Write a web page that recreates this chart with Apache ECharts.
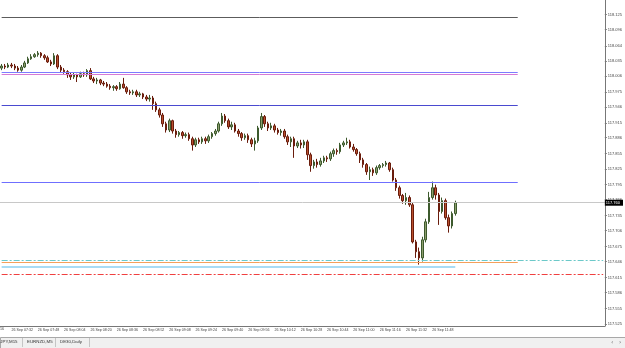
<!DOCTYPE html>
<html>
<head>
<meta charset="utf-8">
<title>USDJPY M2</title>
<style>
    html, body { margin: 0; padding: 0; background: #fff; }
    #chart { width: 625px; height: 348px; }
</style>
</head>
<body>
<div id="chart"></div>
<script src="https://cdn.jsdelivr.net/npm/echarts@6/dist/echarts.min.js"></script>
<script>
// M2 bars, 26 Sep, first bar 07:26 — [open, close, low, high]
const candles = [
    [118.021, 118.025, 118.017, 118.029], [118.025, 118.023, 118.019, 118.029], [118.023, 118.027, 118.021, 118.031],
    [118.027, 118.025, 118.021, 118.031], [118.025, 118.021, 118.017, 118.029], [118.021, 118.017, 118.014, 118.025],
    [118.017, 118.023, 118.014, 118.027], [118.023, 118.031, 118.021, 118.035], [118.031, 118.039, 118.029, 118.043],
    [118.039, 118.043, 118.037, 118.048], [118.043, 118.047, 118.041, 118.050], [118.047, 118.050, 118.043, 118.054],
    [118.050, 118.045, 118.041, 118.052], [118.045, 118.041, 118.037, 118.048], [118.041, 118.033, 118.031, 118.045],
    [118.033, 118.029, 118.025, 118.037], [118.029, 118.045, 118.027, 118.050], [118.045, 118.023, 118.019, 118.048],
    [118.023, 118.017, 118.012, 118.027], [118.017, 118.014, 118.010, 118.021], [118.014, 118.008, 118.002, 118.017],
    [118.008, 118.004, 117.998, 118.012], [118.004, 118.008, 118.000, 118.012], [118.008, 118.004, 117.994, 118.010],
    [118.004, 118.010, 118.002, 118.014], [118.010, 118.008, 118.004, 118.014], [118.008, 118.016, 118.004, 118.019],
    [118.016, 118.000, 117.998, 118.021], [118.000, 117.996, 117.992, 118.004], [117.996, 117.998, 117.990, 118.002],
    [117.998, 117.992, 117.988, 118.000], [117.992, 117.990, 117.986, 117.996], [117.990, 117.986, 117.983, 117.994],
    [117.986, 117.983, 117.979, 117.990], [117.983, 117.985, 117.977, 117.988], [117.985, 117.981, 117.977, 117.988],
    [117.981, 117.990, 117.979, 117.994], [117.990, 117.983, 117.981, 118.002], [117.983, 117.975, 117.971, 117.986],
    [117.975, 117.973, 117.969, 117.979], [117.973, 117.975, 117.969, 117.979], [117.975, 117.969, 117.965, 117.979],
    [117.969, 117.971, 117.965, 117.975], [117.971, 117.965, 117.961, 117.973], [117.965, 117.961, 117.957, 117.969],
    [117.961, 117.963, 117.956, 117.969], [117.963, 117.952, 117.940, 117.967], [117.952, 117.940, 117.936, 117.956],
    [117.940, 117.930, 117.925, 117.944], [117.930, 117.913, 117.907, 117.934], [117.913, 117.901, 117.896, 117.917],
    [117.901, 117.919, 117.897, 117.923], [117.919, 117.899, 117.894, 117.921], [117.899, 117.892, 117.886, 117.903],
    [117.892, 117.896, 117.888, 117.899], [117.896, 117.890, 117.884, 117.899], [117.890, 117.892, 117.886, 117.896],
    [117.892, 117.884, 117.880, 117.896], [117.884, 117.872, 117.861, 117.888], [117.872, 117.882, 117.868, 117.886],
    [117.882, 117.878, 117.874, 117.886], [117.878, 117.884, 117.874, 117.888], [117.884, 117.880, 117.874, 117.888],
    [117.880, 117.888, 117.876, 117.892], [117.888, 117.894, 117.884, 117.897], [117.894, 117.899, 117.890, 117.903],
    [117.899, 117.913, 117.896, 117.917], [117.913, 117.928, 117.909, 117.934], [117.928, 117.919, 117.915, 117.932],
    [117.919, 117.907, 117.903, 117.923], [117.907, 117.911, 117.901, 117.917], [117.911, 117.899, 117.896, 117.915],
    [117.899, 117.894, 117.888, 117.903], [117.894, 117.886, 117.880, 117.897], [117.886, 117.890, 117.882, 117.894],
    [117.890, 117.882, 117.876, 117.894], [117.882, 117.874, 117.868, 117.886], [117.874, 117.880, 117.861, 117.886],
    [117.880, 117.905, 117.876, 117.909], [117.905, 117.927, 117.901, 117.934], [117.927, 117.913, 117.907, 117.930],
    [117.913, 117.905, 117.899, 117.917], [117.905, 117.909, 117.901, 117.915], [117.909, 117.901, 117.896, 117.913],
    [117.901, 117.896, 117.892, 117.905], [117.896, 117.899, 117.890, 117.903], [117.899, 117.888, 117.884, 117.903],
    [117.888, 117.878, 117.872, 117.892], [117.878, 117.884, 117.868, 117.888], [117.884, 117.870, 117.847, 117.888],
    [117.870, 117.876, 117.866, 117.880], [117.876, 117.872, 117.865, 117.882], [117.872, 117.878, 117.866, 117.882],
    [117.878, 117.853, 117.843, 117.882], [117.853, 117.832, 117.820, 117.857], [117.832, 117.839, 117.826, 117.843],
    [117.839, 117.834, 117.828, 117.845], [117.834, 117.841, 117.830, 117.847], [117.841, 117.847, 117.837, 117.851],
    [117.847, 117.845, 117.839, 117.851], [117.845, 117.855, 117.841, 117.859], [117.855, 117.861, 117.849, 117.865],
    [117.861, 117.859, 117.853, 117.865], [117.859, 117.872, 117.855, 117.876], [117.872, 117.876, 117.868, 117.880],
    [117.876, 117.878, 117.872, 117.886], [117.878, 117.868, 117.865, 117.882], [117.868, 117.863, 117.859, 117.874],
    [117.863, 117.855, 117.851, 117.866], [117.855, 117.843, 117.837, 117.859], [117.843, 117.834, 117.828, 117.847],
    [117.834, 117.820, 117.814, 117.837], [117.820, 117.824, 117.804, 117.830], [117.824, 117.818, 117.812, 117.828],
    [117.818, 117.828, 117.814, 117.832], [117.828, 117.832, 117.824, 117.835], [117.832, 117.834, 117.828, 117.837],
    [117.834, 117.837, 117.830, 117.841], [117.837, 117.824, 117.820, 117.839], [117.824, 117.804, 117.801, 117.828],
    [117.804, 117.789, 117.783, 117.808], [117.789, 117.774, 117.768, 117.793], [117.774, 117.764, 117.758, 117.777],
    [117.764, 117.770, 117.756, 117.779], [117.770, 117.756, 117.752, 117.774], [117.756, 117.684, 117.681, 117.760],
    [117.684, 117.665, 117.653, 117.688], [117.665, 117.653, 117.640, 117.673], [117.653, 117.688, 117.646, 117.694],
    [117.688, 117.723, 117.683, 117.729], [117.723, 117.770, 117.719, 117.781], [117.770, 117.789, 117.766, 117.801],
    [117.789, 117.775, 117.766, 117.795], [117.775, 117.743, 117.717, 117.779], [117.743, 117.764, 117.739, 117.770],
    [117.764, 117.731, 117.727, 117.768], [117.731, 117.715, 117.702, 117.737], [117.715, 117.739, 117.710, 117.743],
    [117.739, 117.760, 117.735, 117.764]
];

// price scale labels on the right
const priceTicks = [
    117.525, 117.555, 117.586, 117.615, 117.646, 117.675, 117.706, 117.735, 117.766, 117.795, 117.825,
    117.855, 117.886, 117.915, 117.946, 117.975, 118.006, 118.035, 118.064, 118.096, 118.125
];

// time scale labels (every 8 bars)
const timeTicks = [
    '26 Sep 07:32', '26 Sep 07:48', '26 Sep 08:04', '26 Sep 08:20', '26 Sep 08:36', '26 Sep 08:52',
    '26 Sep 09:08', '26 Sep 09:24', '26 Sep 09:40', '26 Sep 09:56', '26 Sep 10:12', '26 Sep 10:28',
    '26 Sep 10:44', '26 Sep 11:00', '26 Sep 11:16', '26 Sep 11:32', '26 Sep 11:48'
];

// horizontal levels drawn on the chart
const levelPrices = [118.120, 118.013, 118.009, 117.949, 117.800, 117.644, 117.636];
const dashPrices = [117.648, 117.622];
const lastPrice = 117.760;

const tabNames = ['USDJPY,M15', 'EURNZD,M5', 'DE30,Daily'];

// bar slots incl. empty right shift
const totalSlots = 184;
const startMinutes = 7 * 60 + 26;
const categories = [];
for (let i = 0; i < totalSlots; i++) {
    const m = startMinutes + i * 2;
    const hh = String(Math.floor(m / 60)).padStart(2, '0');
    const mm = String(m % 60).padStart(2, '0');
    categories.push(hh + ':' + mm);
}

const showTick = (idx) => idx % 8 === 3 && idx < candles.length;

const levelColors = ['#5c5c5c', '#7c7cff', '#d67ad6', '#4a4ad0', '#6f6fff', '#f5a05a', '#a8dcf5'];
const levelWidths = [1, 1, 1, 1, 1, 1, 2];
const levelEnd = [157, 157, 157, 157, 157, 157, candles.length - 1];
const dashColors = ['#6cc9c9', '#f04040'];

const markData = [];
dashPrices.forEach((p, i) => {
    markData.push([
        { coord: [categories[0], p], lineStyle: { color: dashColors[i], width: 1, type: [6, 2, 2, 2] } },
        { coord: [categories[totalSlots - 1], p] }
    ]);
});
levelPrices.forEach((p, i) => {
    markData.push([
        { coord: [categories[0], p], lineStyle: { color: levelColors[i], width: levelWidths[i], type: 'solid' } },
        { coord: [categories[levelEnd[i]], p] }
    ]);
});
markData.push({
    yAxis: lastPrice,
    lineStyle: { color: '#c8c8c8', width: 1, type: 'solid' },
    label: {
        show: true, position: 'end', distance: 0,
        formatter: lastPrice.toFixed(3),
        backgroundColor: '#000', color: '#fff',
        fontSize: 4, fontFamily: 'Liberation Sans',
        padding: [1, 3, 1, 1]
    }
});

const chart = echarts.init(document.getElementById('chart'));

const option = {
    animation: false,
    backgroundColor: '#fff',
    grid: { left: 0, right: 18, top: 0, bottom: 22 },
    xAxis: {
        type: 'category',
        data: categories,
        axisLine: { lineStyle: { color: '#777', width: 1 } },
        axisTick: {
            interval: (idx) => showTick(idx),
            alignWithLabel: true,
            length: 4,
            lineStyle: { color: '#888' }
        },
        axisLabel: {
            interval: (idx) => showTick(idx),
            formatter: (v, idx) => timeTicks[(idx - 3) / 8] || '',
            align: 'left',
            margin: 2,
            fontSize: 3.6,
            fontFamily: 'Liberation Sans',
            color: '#444'
        },
        splitLine: { show: false }
    },
    yAxis: {
        type: 'value',
        position: 'right',
        min: 117.521,
        max: 118.153,
        scale: true,
        axisLine: { show: true, lineStyle: { color: '#777', width: 1 } },
        axisTick: { show: true, customValues: priceTicks, length: 2, lineStyle: { color: '#777' } },
        axisLabel: {
            customValues: priceTicks,
            formatter: (v) => v.toFixed(3),
            margin: 3,
            fontSize: 4,
            fontFamily: 'Liberation Sans',
            color: '#444'
        },
        splitLine: { show: false }
    },
    series: [{
        type: 'candlestick',
        data: candles,
        barWidth: 2,
        itemStyle: {
            color: '#8d9d6d',
            color0: '#b9502e',
            borderColor: '#3d5a2d',
            borderColor0: '#6a1c0c',
            borderWidth: 1
        },
        markLine: {
            silent: true,
            symbol: 'none',
            label: { show: false },
            data: markData
        }
    }],
    graphic: [
        { type: 'text', right: 621, top: 327, style: { text: '26 Sep 07:16', fontSize: 3.6, fontFamily: 'Liberation Sans', fill: '#444' } },
        { type: 'rect', left: 0, top: 337, shape: { width: 625, height: 11 }, style: { fill: '#f0f0f0', stroke: '#a8a8a8', lineWidth: 1 } },
        { type: 'text', left: -9, top: 340, style: { text: tabNames[0], fontSize: 4.4, fontFamily: 'Liberation Sans', fill: '#333' } },
        { type: 'rect', left: 22, top: 338, shape: { width: 0.5, height: 9 }, style: { fill: '#999' } },
        { type: 'text', left: 27, top: 340, style: { text: tabNames[1], fontSize: 4.4, fontFamily: 'Liberation Sans', fill: '#333' } },
        { type: 'rect', left: 55, top: 338, shape: { width: 0.5, height: 9 }, style: { fill: '#999' } },
        { type: 'text', left: 60, top: 340, style: { text: tabNames[2], fontSize: 4.4, fontFamily: 'Liberation Sans', fill: '#333' } },
        { type: 'rect', left: 89, top: 338, shape: { width: 0.5, height: 9 }, style: { fill: '#999' } },
        { type: 'text', left: 611, top: 339, style: { text: '\u2039', fontSize: 6, fontFamily: 'DejaVu Sans', fill: '#555' } },
        { type: 'text', left: 619, top: 339, style: { text: '\u203a', fontSize: 6, fontFamily: 'DejaVu Sans', fill: '#555' } }
    ]
};

chart.setOption(option);
</script>
</body>
</html>
